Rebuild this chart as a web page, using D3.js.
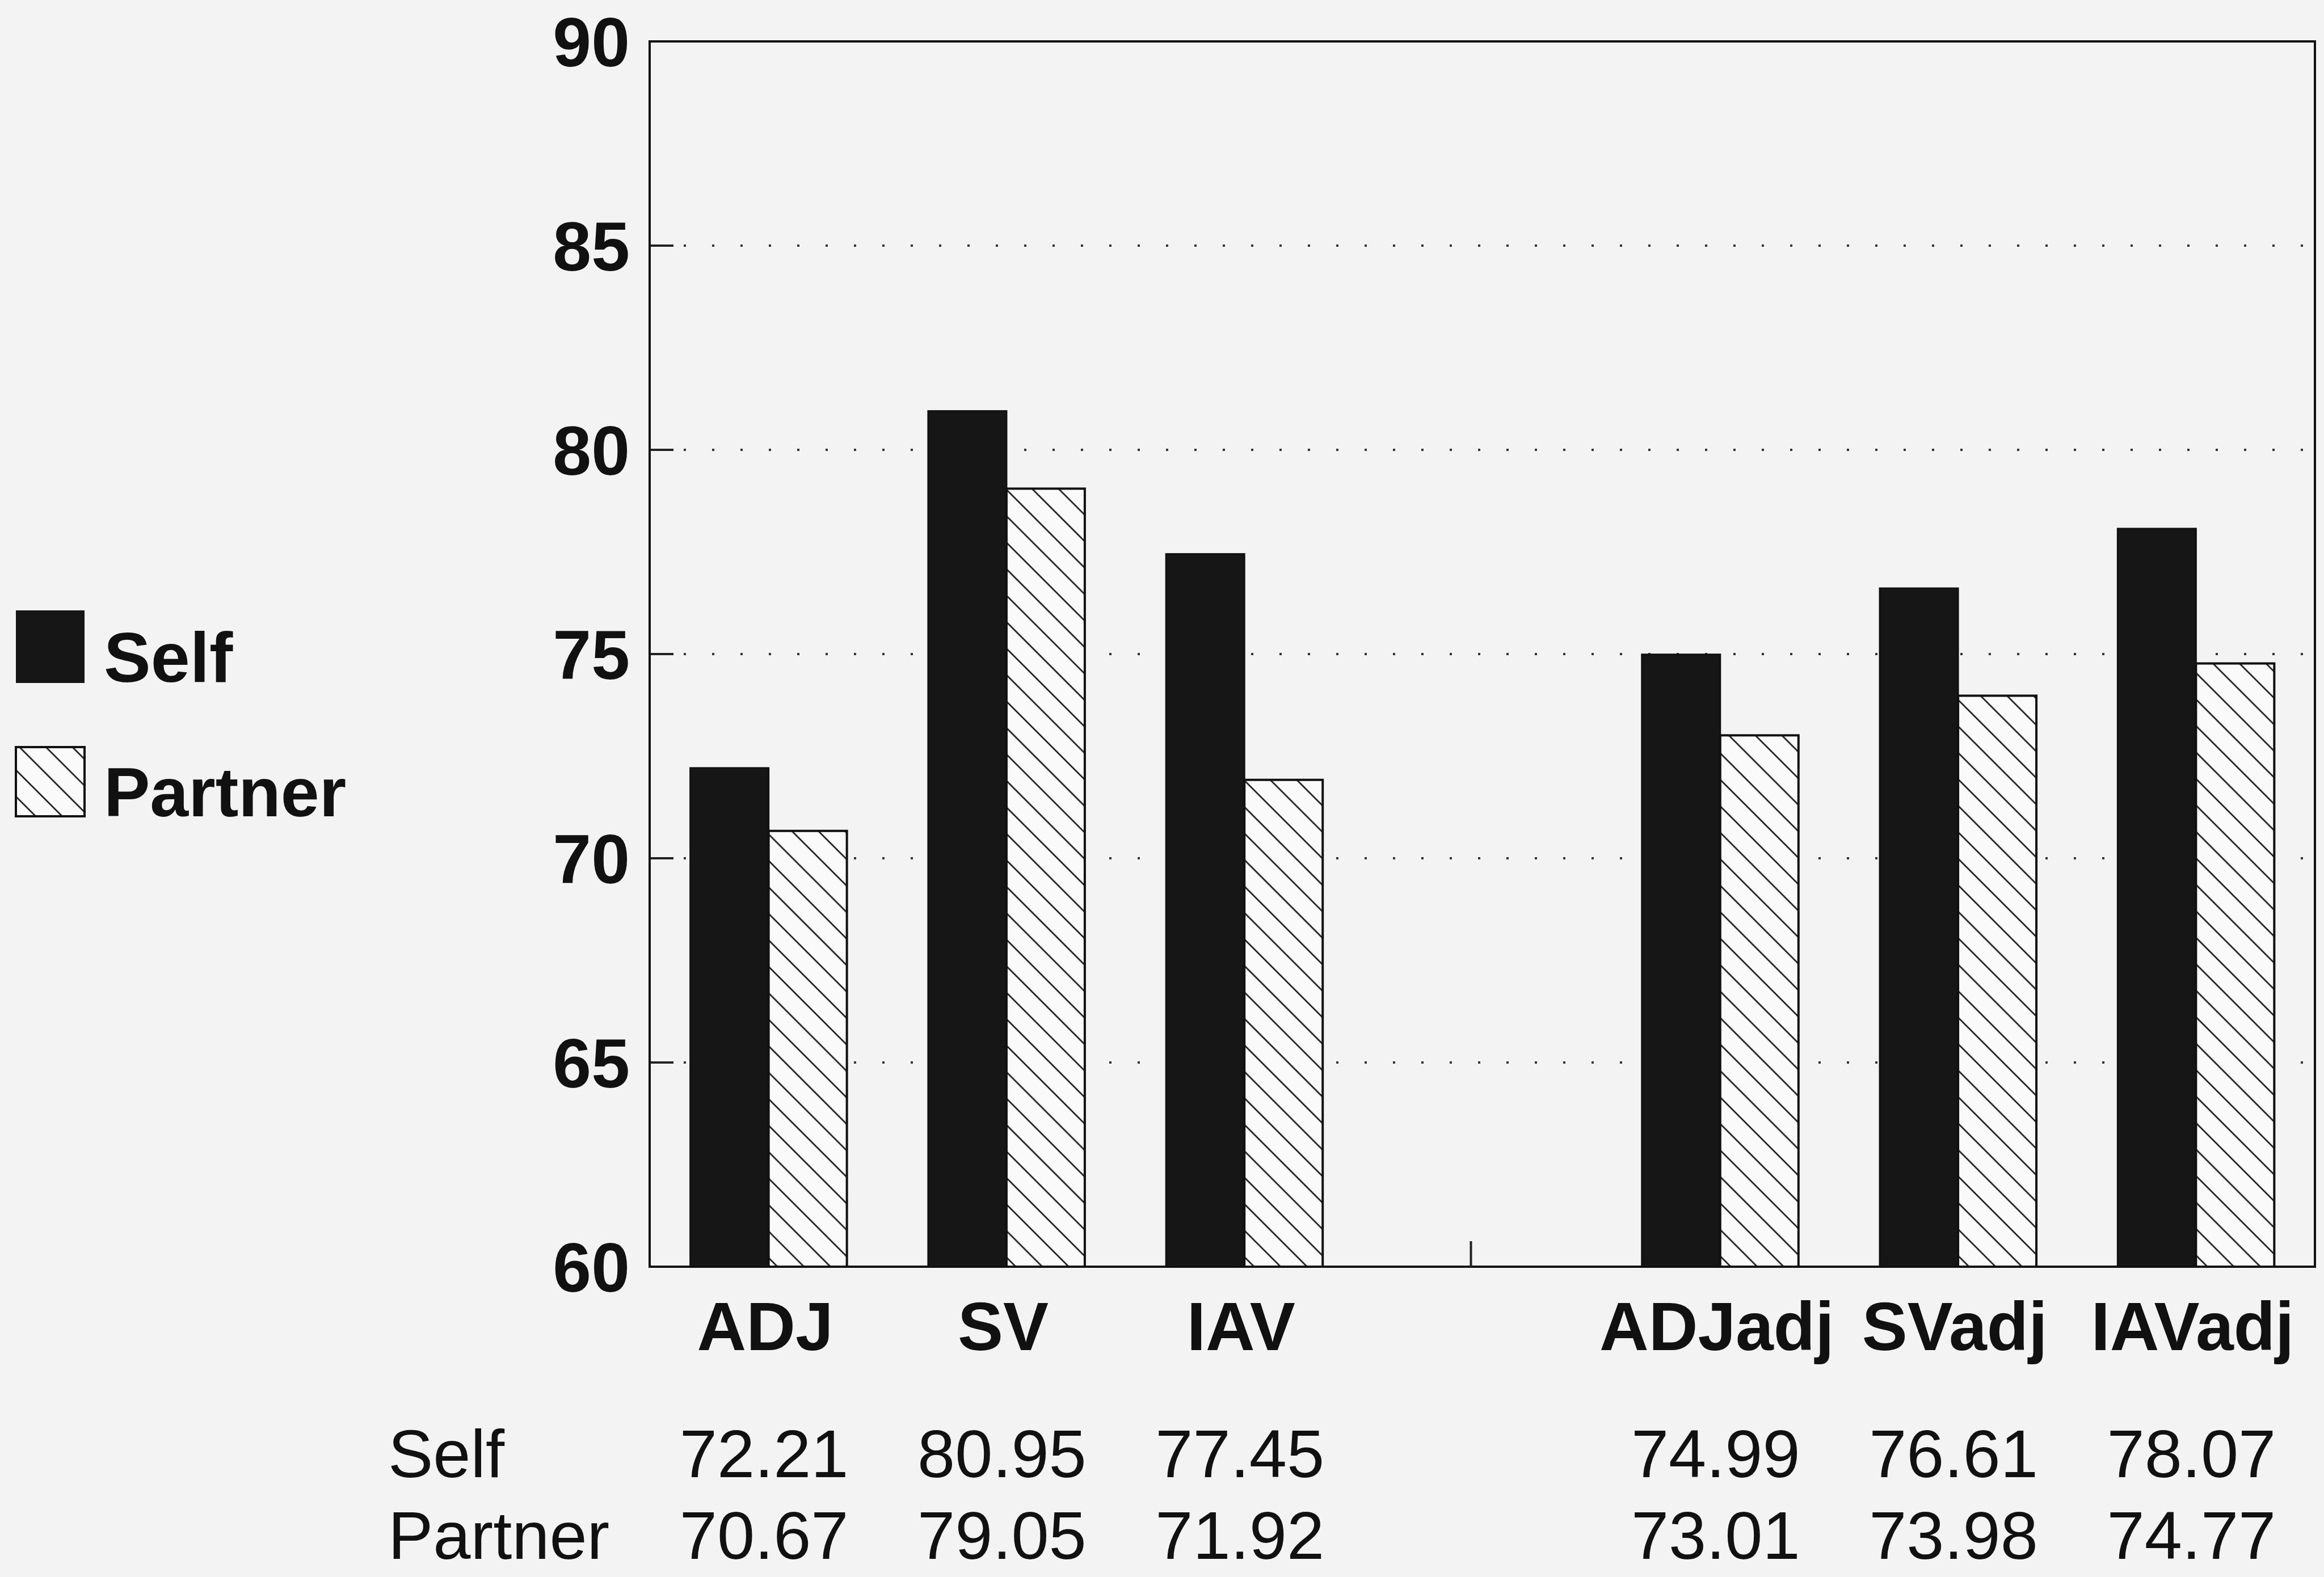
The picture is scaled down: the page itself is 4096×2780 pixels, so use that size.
<!DOCTYPE html>
<html lang="en">
<head>
    <meta charset="UTF-8">
    <title>Self vs Partner</title>
    <script src="https://cdn.jsdelivr.net/npm/d3@7"></script>
    <style>
        html, body { margin: 0; padding: 0; background: #f3f3f3; }
        svg { display: block; }
        text { font-family: "Liberation Sans", Arial, Helvetica, sans-serif; fill: #111; }
    </style>
</head>
<body>
<script>

    // data
    var slots = ["ADJ", "SV", "IAV", "gap", "ADJadj", "SVadj", "IAVadj"]
    var categories = ["ADJ", "SV", "IAV", "ADJadj", "SVadj", "IAVadj"]
    var selfValues = [72.21, 80.95, 77.45, 74.99, 76.61, 78.07]
    var partnerValues = [70.67, 79.05, 71.92, 73.01, 73.98, 74.77]
    var selfLabels = ["72.21", "80.95", "77.45", "74.99", "76.61", "78.07"]
    var partnerLabels = ["70.67", "79.05", "71.92", "73.01", "73.98", "74.77"]
    var yTicks = [60, 65, 70, 75, 80, 85, 90]
    var gridTicks = [65, 70, 75, 80, 85]

    var width = 4096;
    var height = 2780;

    var svg = d3.select("body").append("svg")
        .attr("width", width)
        .attr("height", height)
        .attr("viewBox", [0, 0, width, height])

    svg.append("rect")
        .attr("width", width)
        .attr("height", height)
        .attr("fill", "#f3f3f3")

    // hatch pattern for partner bars
    var defs = svg.append("defs")
    var pat = defs.append("pattern")
        .attr("id", "hatch")
        .attr("patternUnits", "userSpaceOnUse")
        .attr("width", 20)
        .attr("height", 33)
        .attr("patternTransform", "rotate(45)")
    pat.append("rect")
        .attr("width", 20)
        .attr("height", 33)
        .attr("fill", "#fafafa")
    pat.append("line")
        .attr("x1", 0).attr("x2", 20)
        .attr("y1", 16).attr("y2", 16)
        .attr("stroke", "#111")
        .attr("stroke-width", 2.6)

    var xScale = d3.scaleBand()
        .domain(slots)
        .range([1145, 4080])
        .padding(0);

    var yScale = d3.scaleLinear()
        .domain([60, 90])
        .range([2233, 73]);

    var barW = 138;
    var x0 = xScale.range()[0], x1 = xScale.range()[1];

    // dotted grid
    var grid = svg.append("g")
    grid.selectAll("line.dot")
        .data(gridTicks)
        .join("line")
        .attr("x1", x0 + 60)
        .attr("x2", x1 - 10)
        .attr("y1", function (d) { return yScale(d); })
        .attr("y2", function (d) { return yScale(d); })
        .attr("stroke", "#333")
        .attr("stroke-width", 4)
        .attr("stroke-dasharray", "4,46")
    grid.selectAll("line.tick")
        .data(gridTicks)
        .join("line")
        .attr("class", "tick")
        .attr("x1", x0)
        .attr("x2", x0 + 42)
        .attr("y1", function (d) { return yScale(d); })
        .attr("y2", function (d) { return yScale(d); })
        .attr("stroke", "#222")
        .attr("stroke-width", 4)

    // bars
    var bars = svg.append("g")
    bars.selectAll("rect.self")
        .data(categories)
        .join("rect")
        .attr("class", "self")
        .attr("x", function (d) { return xScale(d) + xScale.bandwidth() / 2 - barW; })
        .attr("y", function (d, i) { return yScale(selfValues[i]); })
        .attr("width", barW)
        .attr("height", function (d, i) { return yScale(60) - yScale(selfValues[i]); })
        .attr("fill", "#161616")
        .attr("stroke", "#111")
        .attr("stroke-width", 3)

    bars.selectAll("rect.partner")
        .data(categories)
        .join("rect")
        .attr("class", "partner")
        .attr("x", function (d) { return xScale(d) + xScale.bandwidth() / 2; })
        .attr("y", function (d, i) { return yScale(partnerValues[i]); })
        .attr("width", barW)
        .attr("height", function (d, i) { return yScale(60) - yScale(partnerValues[i]); })
        .attr("fill", "url(#hatch)")
        .attr("stroke", "#111")
        .attr("stroke-width", 4)

    // frame
    svg.append("rect")
        .attr("x", x0)
        .attr("y", yScale(90))
        .attr("width", x1 - x0)
        .attr("height", yScale(60) - yScale(90))
        .attr("fill", "none")
        .attr("stroke", "#111")
        .attr("stroke-width", 4)

    // small tick in the empty slot
    svg.append("line")
        .attr("x1", xScale("gap") + xScale.bandwidth() / 2 - 20)
        .attr("x2", xScale("gap") + xScale.bandwidth() / 2 - 20)
        .attr("y1", yScale(60))
        .attr("y2", yScale(60) - 45)
        .attr("stroke", "#222")
        .attr("stroke-width", 4)

    // y tick labels
    svg.append("g").selectAll("text")
        .data(yTicks)
        .join("text")
        .attr("x", 1110)
        .attr("y", function (d) { return yScale(d); })
        .attr("dy", "0.36em")
        .attr("text-anchor", "end")
        .attr("font-size", "122px")
        .attr("font-weight", "bold")
        .text(function (d) { return d; })

    // category labels
    svg.append("g").selectAll("text")
        .data(categories)
        .join("text")
        .attr("x", function (d) { return xScale(d) + xScale.bandwidth() / 2 - 6; })
        .attr("y", 2380)
        .attr("text-anchor", "middle")
        .attr("font-size", "120px")
        .attr("font-weight", "bold")
        .text(function (d) { return d; })

    // value table
    var rows = [
        {name: "Self", labels: selfLabels, y: 2604},
        {name: "Partner", labels: partnerLabels, y: 2748}
    ]
    rows.forEach(function (r) {
        svg.append("text")
            .attr("x", 684)
            .attr("y", r.y)
            .attr("font-size", "119px")
            .text(r.name)
        svg.append("g").selectAll("text")
            .data(categories)
            .join("text")
            .attr("x", function (d) { return xScale(d) + xScale.bandwidth() / 2 - 8; })
            .attr("y", r.y)
            .attr("text-anchor", "middle")
            .attr("font-size", "119px")
            .text(function (d, i) { return r.labels[i]; })
    })

    // legend
    var legend = svg.append("g")
    legend.append("rect")
        .attr("x", 28).attr("y", 1076)
        .attr("width", 121).attr("height", 128)
        .attr("fill", "#161616")
    legend.append("text")
        .attr("x", 183).attr("y", 1202)
        .attr("font-size", "124px")
        .attr("font-weight", "bold")
        .text("Self")
    legend.append("rect")
        .attr("x", 28).attr("y", 1317)
        .attr("width", 121).attr("height", 122)
        .attr("fill", "url(#hatch)")
        .attr("stroke", "#111")
        .attr("stroke-width", 4)
    legend.append("text")
        .attr("x", 183).attr("y", 1439)
        .attr("font-size", "122px")
        .attr("font-weight", "bold")
        .text("Partner")

</script>
</body>
</html>
